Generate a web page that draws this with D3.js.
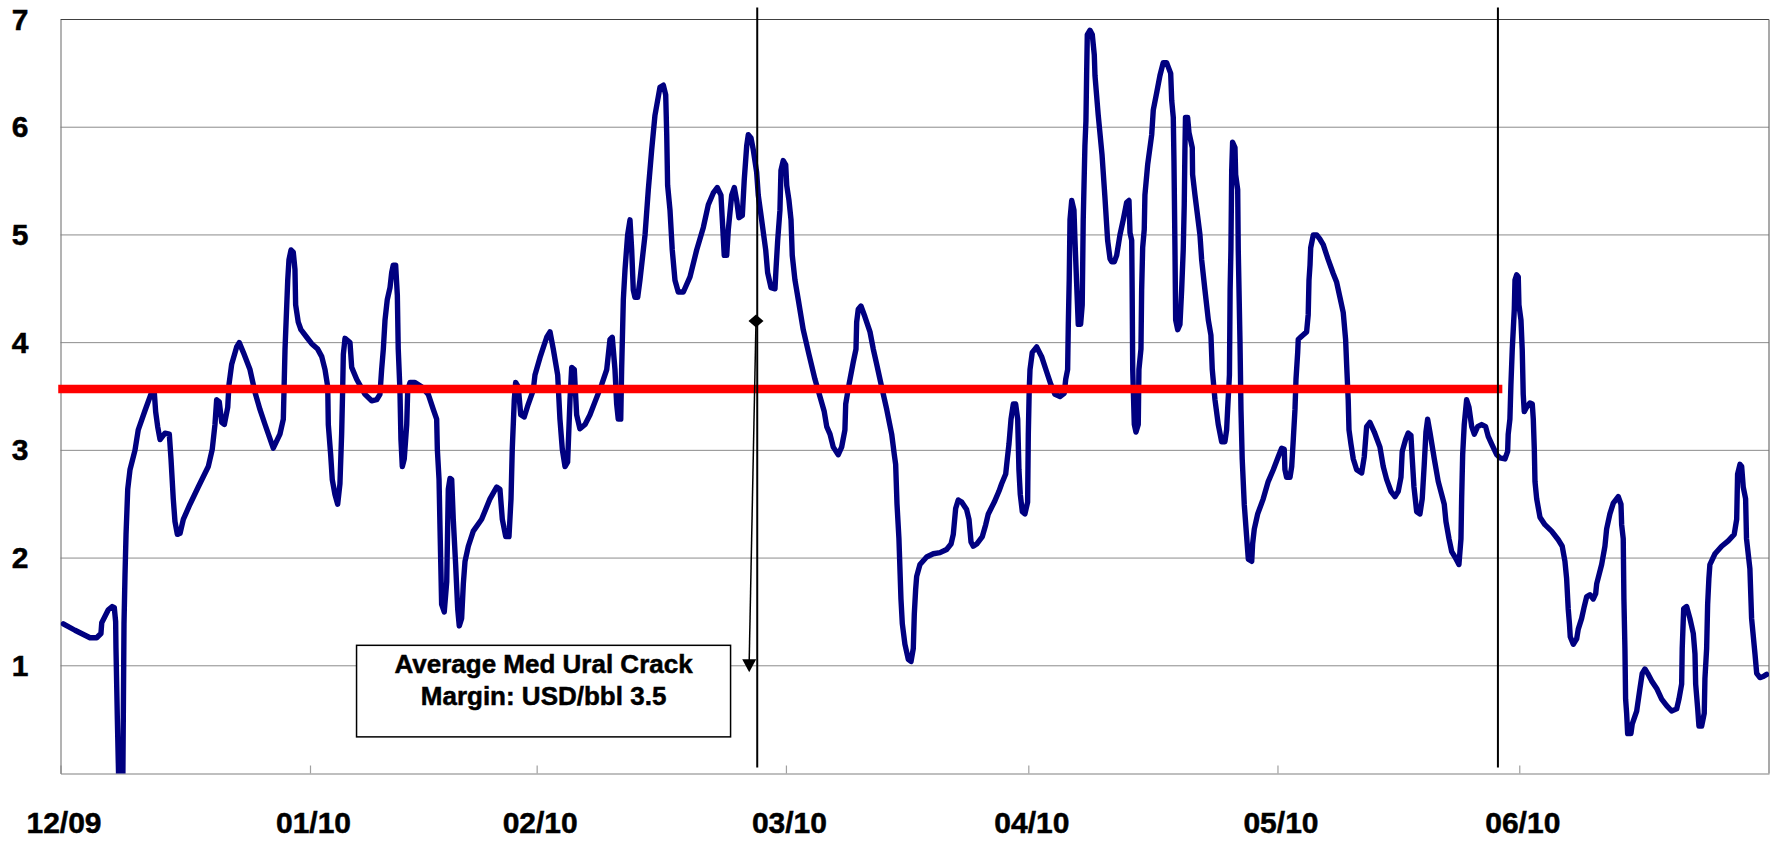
<!DOCTYPE html>
<html>
<head>
<meta charset="utf-8">
<script src="https://cdn.jsdelivr.net/npm/d3@7.9.0/dist/d3.min.js"></script>
<style>
  html, body { margin: 0; padding: 0; background: #fff; }
  svg { display: block; }
  text { font-family: "Liberation Sans", Arial, sans-serif; font-weight: bold; fill: #000; stroke: #000; stroke-width: 0.5px; }
</style>
</head>
<body>
<svg id="chart" width="1775" height="842"></svg>
<script>
// trading-day index (0 = start of 12/09) and margin in USD/bbl
const days = [
  0.25, 1.28, 2.61, 3.20, 3.58, 3.65, 4.23, 4.58, 4.76, 4.88, 4.91, 5.03, 5.20, 5.50, 5.62, 5.71, 5.80, 5.95, 6.15, 6.59,
  6.88, 7.48, 8.07, 8.30, 8.42, 8.60, 8.81, 9.25, 9.63, 9.78, 9.98, 10.13, 10.34, 10.58, 10.87, 11.46, 12.19, 13.08, 13.43, 13.67,
  13.82, 14.05, 14.27, 14.50, 14.80, 14.91, 15.15, 15.59, 15.82, 16.18, 16.77, 17.21, 17.65, 18.10, 18.83, 19.42, 19.72, 19.87, 20.11, 20.22,
  20.40, 20.60, 20.75, 20.81, 21.04, 21.28, 21.79, 22.23, 22.76, 23.12, 23.41, 23.65, 23.70, 23.91, 24.05, 24.29, 24.53, 24.73, 24.88, 24.97,
  25.03, 25.18, 25.62, 25.77, 26.21, 26.95, 27.54, 27.98, 28.27, 28.42, 28.57, 28.72, 28.92, 29.16, 29.31, 29.45, 29.66, 29.81, 29.89, 30.04,
  30.13, 30.25, 30.42, 30.64, 30.73, 30.93, 31.37, 31.96, 32.55, 32.99, 33.29, 33.35, 33.50, 33.58, 33.73, 33.96, 34.18, 34.32, 34.47, 34.62,
  34.76, 34.97, 35.15, 35.29, 35.50, 35.65, 35.80, 36.09, 36.53, 37.27, 38.01, 38.60, 38.89, 39.10, 39.40, 39.69, 39.87, 39.98, 40.16, 40.28,
  40.51, 40.73, 41.04, 41.40, 41.84, 41.99, 42.43, 43.03, 43.32, 43.61, 44.00, 44.20, 44.41, 44.65, 44.88, 45.09, 45.24, 45.47, 45.68, 45.97,
  46.42, 46.86, 47.30, 47.89, 48.34, 48.63, 48.83, 49.07, 49.22, 49.36, 49.58, 49.66, 49.81, 49.96, 50.19, 50.40, 50.55, 50.69, 50.84, 51.08,
  51.28, 51.73, 52.02, 52.32, 52.61, 53.05, 53.35, 53.56, 53.65, 53.73, 53.94, 54.14, 54.38, 54.67, 55.12, 55.71, 56.30, 56.89, 57.33, 57.77,
  58.12, 58.45, 58.57, 58.74, 58.96, 59.10, 59.40, 59.63, 59.84, 60.04, 60.34, 60.51, 60.73, 60.87, 61.11, 61.31, 61.61, 61.75, 62.05, 62.41,
  62.58, 62.88, 63.23, 63.32, 63.47, 63.67, 63.76, 63.96, 64.18, 64.27, 64.47, 64.65, 64.76, 65.00, 65.29, 65.73, 66.24, 66.77, 67.21, 67.59,
  67.81, 68.10, 68.39, 68.83, 69.13, 69.42, 69.49, 69.78, 70.16, 70.40, 70.46, 70.60, 70.84, 71.19, 71.64, 71.93, 72.23, 72.67, 73.12, 73.56,
  73.79, 73.91, 74.03, 74.20, 74.38, 74.50, 74.73, 75.03, 75.27, 75.47, 75.56, 75.68, 75.77, 76.06, 76.65, 77.24, 77.83, 78.42, 78.81, 79.01,
  79.22, 79.45, 79.75, 80.19, 80.40, 80.58, 80.78, 81.08, 81.58, 81.88, 82.11, 82.64, 83.05, 83.29, 83.65, 83.79, 83.94, 84.12, 84.32, 84.53,
  84.71, 84.82, 84.94, 85.12, 85.35, 85.59, 85.65, 85.73, 85.80, 86.00, 86.39, 86.83, 87.27, 87.65, 88.01, 88.45, 88.83, 88.96, 89.13, 89.19,
  89.27, 89.34, 89.49, 89.69, 89.78, 89.93, 90.07, 90.28, 90.42, 90.51, 90.66, 90.75, 90.81, 90.87, 91.11, 91.31, 91.49, 91.55, 91.84, 92.17,
  92.43, 92.67, 92.88, 93.03, 93.26, 93.47, 93.76, 94.05, 94.35, 94.56, 94.65, 94.80, 94.84, 94.89, 95.03, 95.18, 95.38, 95.44, 95.62, 95.68,
  95.77, 95.91, 95.97, 96.21, 96.57, 96.71, 97.01, 97.30, 97.59, 97.89, 98.25, 98.34, 98.48, 98.54, 98.63, 98.69, 98.87, 99.07, 99.22, 99.36,
  99.45, 99.51, 99.56, 99.75, 99.87, 100.16, 100.19, 100.40, 100.84, 100.99, 101.28, 101.58, 101.81, 101.93, 102.17, 102.46, 102.76, 103.05, 103.20, 103.29,
  103.45, 103.51, 103.58, 103.65, 103.73, 103.94, 104.00, 104.18, 104.23, 104.38, 104.47, 104.58, 104.76, 104.97, 105.12, 105.42, 105.50, 105.65, 105.95, 106.44,
  106.88, 107.33, 107.77, 108.07, 108.30, 108.36, 108.51, 108.81, 108.96, 109.10, 109.25, 109.34, 109.49, 109.54, 109.84, 110.28, 110.42, 110.49, 110.58, 110.64,
  110.87, 111.17, 111.46, 111.75, 112.19, 112.64, 112.94, 113.23, 113.52, 113.73, 113.82, 113.96, 114.03, 114.20, 114.41, 114.71, 115.15, 115.38, 115.50, 115.59,
  115.88, 116.27, 116.77, 117.06, 117.36, 117.74, 118.10, 118.39, 118.63, 118.74, 119.04, 119.27, 119.51, 119.63, 119.78, 120.02, 120.31, 120.51, 120.69, 120.84,
  120.99, 121.19, 121.58, 121.93, 122.46, 122.61, 122.88, 123.12, 123.41, 123.76, 123.94, 124.00, 124.09, 124.23, 124.44, 124.65, 124.89, 125.12, 125.42, 125.77,
  126.12, 126.35, 126.65, 127.10, 127.39, 127.83, 128.07, 128.12, 128.27, 128.36, 128.48, 128.66, 128.72, 128.87, 129.01, 129.07, 129.25, 129.36, 129.45, 129.54,
  129.75, 130.04, 130.25, 130.34, 130.43, 130.49, 130.64, 130.93, 131.37, 131.96, 132.55, 132.90, 133.14, 133.29, 133.43, 133.54, 133.61, 133.88, 134.18, 134.32,
  134.62, 134.85, 135.06, 135.35, 135.65, 135.86, 135.95, 136.39, 136.68, 136.83, 137.12, 137.42, 137.86, 138.10, 138.16, 138.30, 138.36, 138.45, 138.51, 138.60,
  138.69, 138.98, 139.10, 139.49, 139.78, 139.98, 140.22, 140.46, 140.81, 141.26, 141.70, 142.14, 142.58, 143.03, 143.23, 143.47, 143.52, 143.65, 143.91, 144.20,
  144.50, 144.65, 144.71, 144.89, 145.00, 145.24, 145.47, 145.53, 145.68, 145.77, 145.88, 145.97, 146.42, 147.01, 147.59, 148.12, 148.34, 148.42, 148.63, 148.78,
  148.92, 149.13, 149.21, 149.51, 149.66, 149.96, 150.11, 150.40, 150.69, 150.99
];
const margins = [
  1.39, 1.33, 1.26, 1.26, 1.30, 1.40, 1.52, 1.55, 1.54, 1.41, 1.16, 0.51, -0.30, -0.30, 1.39, 1.85, 2.22, 2.64, 2.82, 3.00,
  3.19, 3.37, 3.54, 3.54, 3.36, 3.22, 3.10, 3.16, 3.15, 2.92, 2.55, 2.34, 2.22, 2.23, 2.36, 2.50, 2.66, 2.85, 3.01, 3.24,
  3.47, 3.45, 3.26, 3.24, 3.40, 3.61, 3.80, 3.96, 4.00, 3.91, 3.75, 3.54, 3.38, 3.24, 3.02, 3.15, 3.29, 3.94, 4.58, 4.77,
  4.86, 4.84, 4.68, 4.35, 4.19, 4.12, 4.05, 3.99, 3.94, 3.87, 3.75, 3.59, 3.24, 2.96, 2.73, 2.59, 2.50, 2.69, 3.15, 3.56,
  3.89, 4.04, 4.00, 3.77, 3.66, 3.52, 3.46, 3.47, 3.52, 3.75, 3.94, 4.21, 4.40, 4.51, 4.65, 4.72, 4.72, 4.44, 3.94, 3.56,
  3.10, 2.85, 2.92, 3.24, 3.56, 3.63, 3.63, 3.59, 3.52, 3.38, 3.29, 3.01, 2.73, 2.31, 1.57, 1.50, 1.78, 2.64, 2.74, 2.73,
  2.36, 1.94, 1.53, 1.37, 1.44, 1.76, 1.97, 2.11, 2.25, 2.36, 2.55, 2.66, 2.64, 2.36, 2.20, 2.20, 2.55, 3.01, 3.47, 3.63,
  3.59, 3.33, 3.31, 3.43, 3.56, 3.70, 3.86, 4.05, 4.10, 3.94, 3.70, 3.29, 3.01, 2.85, 2.89, 3.47, 3.77, 3.75, 3.33, 3.20,
  3.24, 3.33, 3.45, 3.61, 3.75, 4.03, 4.05, 3.75, 3.43, 3.29, 3.29, 3.75, 4.40, 4.68, 5.00, 5.14, 4.86, 4.49, 4.42, 4.42,
  4.58, 5.00, 5.42, 5.79, 6.11, 6.37, 6.39, 6.30, 5.93, 5.46, 5.23, 4.86, 4.58, 4.47, 4.47, 4.61, 4.86, 5.07, 5.28, 5.39,
  5.44, 5.37, 5.14, 4.81, 4.81, 5.05, 5.37, 5.44, 5.32, 5.16, 5.18, 5.51, 5.83, 5.93, 5.90, 5.79, 5.58, 5.37, 5.14, 4.86,
  4.65, 4.51, 4.50, 4.68, 4.95, 5.23, 5.60, 5.69, 5.65, 5.46, 5.32, 5.14, 4.81, 4.58, 4.40, 4.12, 3.89, 3.66, 3.50, 3.36,
  3.22, 3.15, 3.03, 2.96, 3.03, 3.19, 3.43, 3.61, 3.82, 3.94, 4.19, 4.31, 4.34, 4.24, 4.10, 3.94, 3.80, 3.59, 3.38, 3.15,
  2.96, 2.87, 2.50, 2.18, 1.62, 1.39, 1.20, 1.06, 1.04, 1.16, 1.48, 1.71, 1.83, 1.94, 2.01, 2.04, 2.05, 2.08, 2.13, 2.22,
  2.46, 2.54, 2.52, 2.45, 2.36, 2.15, 2.11, 2.13, 2.20, 2.31, 2.41, 2.52, 2.62, 2.69, 2.78, 2.92, 3.06, 3.29, 3.43, 3.43,
  3.29, 2.82, 2.59, 2.43, 2.41, 2.52, 3.15, 3.56, 3.75, 3.91, 3.96, 3.87, 3.73, 3.61, 3.52, 3.50, 3.53, 3.66, 3.75, 4.17,
  4.58, 5.14, 5.32, 5.23, 4.95, 4.54, 4.17, 4.17, 4.35, 5.14, 5.83, 6.06, 6.48, 6.86, 6.90, 6.86, 6.67, 6.48, 6.11, 5.75,
  5.35, 4.95, 4.78, 4.75, 4.75, 4.81, 5.00, 5.14, 5.30, 5.32, 5.02, 4.95, 4.49, 3.75, 3.24, 3.17, 3.24, 3.75, 3.94, 4.49,
  4.88, 5.05, 5.37, 5.65, 5.93, 6.16, 6.32, 6.48, 6.60, 6.60, 6.50, 6.25, 6.09, 5.69, 4.86, 4.21, 4.12, 4.17, 4.49, 4.86,
  5.28, 5.79, 6.09, 6.09, 5.95, 5.81, 5.56, 5.37, 5.00, 4.77, 4.49, 4.21, 4.07, 3.75, 3.47, 3.24, 3.08, 3.08, 3.19, 3.38,
  3.70, 4.49, 4.86, 5.60, 5.86, 5.81, 5.56, 5.42, 4.86, 4.03, 3.38, 2.92, 2.50, 2.20, 1.99, 1.97, 2.13, 2.27, 2.41, 2.55,
  2.71, 2.82, 2.94, 3.02, 3.01, 2.82, 2.75, 2.75, 2.85, 3.10, 3.38, 3.66, 3.91, 4.03, 4.06, 4.10, 4.26, 4.58, 4.72, 4.88,
  5.00, 5.00, 4.96, 4.91, 4.77, 4.64, 4.56, 4.42, 4.28, 4.03, 3.80, 3.47, 3.19, 3.06, 2.92, 2.82, 2.79, 2.94, 3.10, 3.22,
  3.26, 3.17, 3.03, 2.85, 2.73, 2.62, 2.57, 2.62, 2.75, 2.99, 3.10, 3.16, 3.14, 2.92, 2.66, 2.43, 2.41, 2.55, 2.87, 3.17,
  3.29, 3.17, 2.92, 2.71, 2.50, 2.34, 2.18, 2.06, 2.01, 1.94, 2.18, 2.55, 2.96, 3.24, 3.47, 3.40, 3.22, 3.15, 3.22, 3.24,
  3.22, 3.13, 3.06, 2.96, 2.93, 2.92, 2.99, 3.15, 3.29, 3.61, 3.94, 4.31, 4.58, 4.63, 4.61, 4.35, 4.21, 3.94, 3.52, 3.36,
  3.40, 3.44, 3.43, 3.29, 3.01, 2.71, 2.55, 2.38, 2.31, 2.25, 2.17, 2.11, 1.97, 1.81, 1.53, 1.39, 1.27, 1.20, 1.25, 1.34,
  1.44, 1.55, 1.64, 1.66, 1.62, 1.67, 1.76, 1.94, 2.11, 2.27, 2.41, 2.51, 2.57, 2.50, 2.31, 2.18, 1.62, 1.16, 0.69, 0.56,
  0.37, 0.37, 0.46, 0.58, 0.79, 0.93, 0.97, 0.93, 0.86, 0.79, 0.69, 0.63, 0.58, 0.60, 0.69, 0.83, 1.16, 1.53, 1.55, 1.44,
  1.30, 1.11, 0.83, 0.60, 0.44, 0.44, 0.56, 0.88, 1.16, 1.57, 1.81, 1.94, 2.04, 2.11, 2.16, 2.22, 2.36, 2.78, 2.87, 2.85,
  2.66, 2.55, 2.18, 1.90, 1.44, 1.11, 0.93, 0.89, 0.90, 0.92
];

const tickLabels = ['12/09', '01/10', '02/10', '03/10', '04/10', '05/10', '06/10'];
const tickDays = [0, 22.08, 42.14, 64.2, 85.65, 107.7, 129.1];
const yTicks = [1, 2, 3, 4, 5, 6, 7];
const dayRange = [0, 151.2];

const averageMargin = 3.57;
const averageSpan = [-0.2, 127.6];
const periodBreaks = [61.66, 127.21];
const noteLines = ['Average Med Ural Crack', 'Margin: USD/bbl 3.5'];
const noteBox = { d0: 26.2, d1: 59.3, v0: 1.19, v1: 0.34 };
const arrowFrom = [61.55, 4.2];
const arrowTo = [60.95, 0.94];

const series = days.map((d, i) => [d, margins[i]]);

const svg = d3.select('#chart');
const x = d3.scaleLinear().domain(dayRange).range([60.5, 1769]);
const y = d3.scaleLinear().domain([0, 7]).range([773.5, 19.5]);

svg.append('rect').attr('width', 1775).attr('height', 842).attr('fill', '#fff');

// grid
svg.append('g')
  .selectAll('line')
  .data(yTicks.slice(0, -1))
  .join('line')
  .attr('x1', x(dayRange[0])).attr('x2', x(dayRange[1]))
  .attr('y1', d => y(d)).attr('y2', d => y(d))
  .attr('stroke', '#8c8c8c').attr('stroke-width', 1);

// frame
svg.append('line')
  .attr('x1', x(dayRange[0])).attr('x2', x(dayRange[1]))
  .attr('y1', y(7)).attr('y2', y(7))
  .attr('stroke', '#404040').attr('stroke-width', 1.2);
svg.append('line')
  .attr('x1', x(dayRange[1])).attr('x2', x(dayRange[1]))
  .attr('y1', y(7)).attr('y2', y(0))
  .attr('stroke', '#707070').attr('stroke-width', 1.2);

const xAxis = d3.axisBottom(x)
  .tickValues(tickDays)
  .tickFormat((d, i) => tickLabels[i])
  .tickSize(-8)
  .tickSizeOuter(0)
  .tickPadding(38);
const gx = svg.append('g').attr('transform', `translate(0,${y(0)})`).call(xAxis);
gx.select('.domain').attr('stroke', '#808080').attr('stroke-width', 1.2);
gx.selectAll('.tick line').attr('stroke', '#a0a0a0').attr('stroke-width', 1.2);
gx.selectAll('.tick text')
  .attr('dx', 3)
  .style('font-size', '30px')
  .style('font-family', '"Liberation Sans", Arial, sans-serif')
  .style('font-weight', 'bold')
  .attr('fill', '#000');

const yAxis = d3.axisLeft(y)
  .tickValues(yTicks)
  .tickFormat(d3.format('d'))
  .tickSize(0)
  .tickPadding(32);
const gy = svg.append('g').attr('transform', `translate(${x(dayRange[0])},0)`).call(yAxis);
gy.select('.domain').attr('stroke', '#808080').attr('stroke-width', 1.2);
gy.selectAll('.tick text')
  .style('font-size', '30px')
  .style('font-family', '"Liberation Sans", Arial, sans-serif')
  .style('font-weight', 'bold')
  .attr('fill', '#000');

// series
svg.append('clipPath').attr('id', 'plot-clip')
  .append('rect')
  .attr('x', x(dayRange[0])).attr('y', y(7))
  .attr('width', x(dayRange[1]) - x(dayRange[0]))
  .attr('height', y(0) - y(7));

const line = d3.line().x(d => x(d[0])).y(d => y(d[1]));
svg.append('path')
  .datum(series)
  .attr('clip-path', 'url(#plot-clip)')
  .attr('d', line)
  .attr('fill', 'none')
  .attr('stroke', '#000080')
  .attr('stroke-width', 5.4)
  .attr('stroke-linejoin', 'round')
  .attr('stroke-linecap', 'round');

// average line
svg.append('line')
  .attr('x1', x(averageSpan[0])).attr('x2', x(averageSpan[1]))
  .attr('y1', y(averageMargin)).attr('y2', y(averageMargin))
  .attr('stroke', '#ff0000').attr('stroke-width', 8.5);

// period breaks
svg.append('g')
  .selectAll('line')
  .data(periodBreaks)
  .join('line')
  .attr('x1', d => x(d)).attr('x2', d => x(d))
  .attr('y1', y(7) - 12).attr('y2', y(0) - 6)
  .attr('stroke', '#000').attr('stroke-width', 2);

// arrow
svg.append('line')
  .attr('x1', x(arrowFrom[0])).attr('y1', y(arrowFrom[1]))
  .attr('x2', x(arrowTo[0])).attr('y2', y(arrowTo[1]) - 12)
  .attr('stroke', '#000').attr('stroke-width', 1.5);
const ax = x(arrowFrom[0]), ay = y(arrowFrom[1]);
svg.append('path')
  .attr('d', `M${ax - 7.5},${ay} L${ax},${ay - 6.5} L${ax + 7.5},${ay} L${ax},${ay + 6.5} Z`)
  .attr('fill', '#000');
const tx = x(arrowTo[0]), ty = y(arrowTo[1]);
svg.append('path')
  .attr('d', `M${tx - 7},${ty - 13} L${tx + 7},${ty - 13} L${tx},${ty} Z`)
  .attr('fill', '#000');

// note box
const note = svg.append('g');
note.append('rect')
  .attr('x', x(noteBox.d0)).attr('y', y(noteBox.v0))
  .attr('width', x(noteBox.d1) - x(noteBox.d0))
  .attr('height', y(noteBox.v1) - y(noteBox.v0))
  .attr('fill', '#fff').attr('stroke', '#000').attr('stroke-width', 1.5);
note.selectAll('text')
  .data(noteLines)
  .join('text')
  .attr('x', (x(noteBox.d0) + x(noteBox.d1)) / 2)
  .attr('y', (d, i) => y(noteBox.v0) + 28 + i * 32)
  .attr('text-anchor', 'middle')
  .style('font-size', '26px')
  .text(d => d);
</script>
</body>
</html>
